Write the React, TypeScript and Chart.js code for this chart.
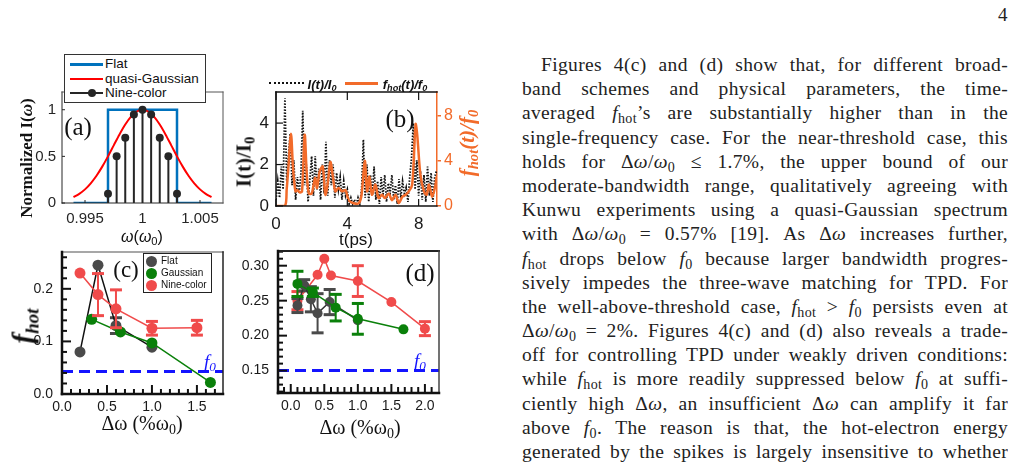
import React, { useEffect, useRef } from 'react';
import { Chart, registerables } from 'chart.js';

Chart.register(...registerables);

const SERIF = '"Liberation Serif", "Times New Roman", serif';
const SANS = '"Liberation Sans", Arial, sans-serif';
const ORANGE = '#f26b2a';
const BLUE_F0 = '#1414ff';
const GRAY = '#4a4a4a';
const GREEN = '#0a800a';
const RED = '#f04b4b';

// ===== Panel (a): spectra =====
const flatFreq = [0.994, 0.997, 0.997, 1.003, 1.003, 1.006];
const flatAmp = [0, 0, 1, 1, 0, 0];
const gaussFreq = [0.994, 0.9945, 0.995, 0.9955, 0.996, 0.9965, 0.997, 0.9975, 0.998, 0.9985, 0.999, 0.9995, 1.0, 1.0005, 1.001, 1.0015, 1.002, 1.0025, 1.003, 1.0035, 1.004, 1.0045, 1.005, 1.0055, 1.006];
const gaussAmp = [0.063, 0.098, 0.146, 0.211, 0.292, 0.39, 0.5, 0.618, 0.735, 0.841, 0.926, 0.981, 1.0, 0.981, 0.926, 0.841, 0.735, 0.618, 0.5, 0.39, 0.292, 0.211, 0.146, 0.098, 0.063];
const nineFreq = [0.997, 0.99775, 0.9985, 0.99925, 1.0, 1.00075, 1.0015, 1.00225, 1.003];
const nineAmp = [0.1, 0.5, 0.7, 0.95, 1.0, 0.95, 0.7, 0.5, 0.1];
const aXTicks = [0.995, 1.0, 1.005];
const aXLabels = ['0.995', '1', '1.005'];
const aYTicks = [0, 0.5, 1];
const aYLabels = ['0', '0.5', '1'];

// ===== Panel (b): time series =====
const intTime = [0, 0.1, 0.2, 0.3, 0.4, 0.5, 0.6, 0.7, 0.8, 0.9, 1.0, 1.1, 1.2, 1.3, 1.4, 1.5, 1.6, 1.7, 1.8, 1.9, 2.0, 2.1, 2.2, 2.3, 2.4, 2.5, 2.6, 2.7, 2.8, 2.9, 3.0, 3.1, 3.2, 3.3, 3.4, 3.5, 3.6, 3.7, 3.8, 3.9, 4.0, 4.1, 4.2, 4.3, 4.4, 4.5, 4.6, 4.7, 4.8, 4.9, 5.0, 5.1, 5.2, 5.3, 5.4, 5.5, 5.6, 5.7, 5.8, 5.9, 6.0, 6.1, 6.2, 6.3, 6.4, 6.5, 6.6, 6.7, 6.8, 6.9, 7.0, 7.1, 7.2, 7.3, 7.4, 7.5, 7.6, 7.7, 7.8, 7.9, 8.0, 8.1, 8.2, 8.3, 8.4, 8.5, 8.6, 8.7, 8.8, 8.9, 9.0];
const intensity = [0.3, 1.2, 0.4, 1.9, 0.8, 5.2, 1.2, 2.5, 3.5, 1.0, 2.2, 0.3, 1.4, 0.6, 1.6, 4.6, 1.0, 2.0, 0.2, 1.3, 2.4, 0.5, 2.4, 0.8, 1.8, 0.3, 2.0, 0.6, 3.1, 0.5, 2.2, 1.0, 2.0, 0.4, 1.6, 0.8, 1.4, 0.3, 1.2, 0.5, 0.8, 0.1, 0.4, 0.1, 0.3, 0.05, 0.4, 0.1, 0.8, 3.2, 0.4, 2.0, 0.2, 1.5, 0.5, 1.9, 0.3, 1.2, 0.1, 1.4, 0.5, 1.5, 0.2, 1.1, 0.6, 1.5, 0.3, 1.0, 0.1, 1.3, 0.4, 1.2, 0.6, 0.9, 0.2, 1.4, 2.3, 4.0, 0.8, 2.2, 0.5, 1.7, 0.3, 1.5, 0.2, 1.9, 0.5, 1.6, 0.2, 1.4, 1.7];
const hotTime = [0, 0.5, 0.6, 0.7, 0.84, 0.95, 1.09, 1.2, 1.35, 1.46, 1.61, 1.72, 1.84, 2.0, 2.1, 2.2, 2.3, 2.45, 2.62, 2.77, 2.9, 3.05, 3.2, 3.33, 3.5, 3.7, 3.9, 4.08, 4.36, 4.64, 4.8, 4.98, 5.11, 5.24, 5.38, 5.58, 5.75, 5.95, 6.1, 6.33, 6.5, 6.7, 6.89, 7.08, 7.27, 7.45, 7.64, 7.83, 7.92, 8.1, 8.3, 8.45, 8.58, 8.76, 8.95, 9.0];
const hotRatio = [0, 0, 1.5, 3.5, 6.4, 3.5, 1.3, 1.4, 1.2, 1.3, 6.3, 3.0, 1.1, 1.1, 1.8, 2.5, 1.6, 3.05, 3.5, 1.0, 2.0, 3.9, 2.5, 1.3, 1.6, 1.3, 1.4, 0.5, 0.25, 0.25, 1.0, 4.0, 1.3, 2.6, 1.0, 1.9, 0.7, 1.0, 0.7, 1.1, 0.5, 1.0, 0.25, 0.8, 1.0, 1.3, 1.9, 7.25, 6.3, 2.75, 1.3, 1.0, 1.9, 0.8, 1.9, 2.6];
const bXTicks = [0, 4, 8];
const bYTicks = [0, 2, 4];
const bY2Ticks = [0, 4, 8];

// ===== Panel (c): near-threshold f_hot =====
const cFlatX = [0.2, 0.4, 0.6, 1.0];
const cFlatY = [0.08, 0.245, 0.13, 0.089];
const cFlatErr = [0, 0, 0.015, 0];
const cGaussX = [0.33, 0.65, 1.0, 1.65];
const cGaussY = [0.142, 0.118, 0.097, 0.022];
const cNineX = [0.2, 0.4, 0.6, 1.0, 1.5];
const cNineY = [0.23, 0.189, 0.162, 0.125, 0.126];
const cNineErr = [0, 0.04, 0.036, 0.013, 0.014];
const cF0 = 0.043;
const cXMajor = [0, 0.5, 1.0, 1.5];
const cXLabels = ['0.0', '0.5', '1.0', '1.5'];
const cYMajor = [0, 0.1, 0.2];
const cYLabels = ['0.0', '0.1', '0.2'];

// ===== Panel (d): well-above-threshold f_hot =====
const dFlatX = [0.1, 0.2, 0.3, 0.4, 0.58, 1.0];
const dFlatY = [0.243, 0.272, 0.252, 0.232, 0.248, 0.222];
const dFlatErr = [0.01, 0.008, 0.018, 0.028, 0.018, 0];
const dGaussX = [0.1, 0.33, 0.67, 1.0, 1.68];
const dGaussY = [0.274, 0.262, 0.24, 0.224, 0.209];
const dGaussErr = [0.018, 0.006, 0.019, 0.022, 0];
const dNineX = [0.1, 0.4, 0.5, 0.6, 1.0, 1.5, 2.0];
const dNineY = [0.25, 0.287, 0.31, 0.286, 0.278, 0.248, 0.21];
const dNineErr = [0.013, 0, 0, 0, 0.022, 0, 0.01];
const dF0 = 0.15;
const dXMajor = [0, 0.5, 1.0, 1.5, 2.0];
const dXLabels = ['0.0', '0.5', '1.0', '1.5', '2.0'];
const dYMajor = [0.15, 0.2, 0.25, 0.3];
const dYLabels = ['0.15', '0.20', '0.25', '0.30'];

// ---------- helpers ----------
type Rect = { x: number; y: number; w: number; h: number };
type Plot = { l: number; t: number; r: number; b: number };

const xy = (xs: number[], ys: number[]) => xs.map((x, i) => ({ x, y: ys[i] }));
const steps = (a: number, b: number, s: number) => {
  const out: number[] = [];
  const n = Math.round((b - a) / s);
  for (let i = 0; i <= n; i++) out.push(Math.round((a + i * s) * 1e6) / 1e6);
  return out;
};
const near = (a: number, b: number) => Math.abs(a - b) < 1e-7;
const labeler = (vals: number[], labels: string[]) => (v: number) => {
  const i = vals.findIndex((m) => near(m, v));
  return i >= 0 ? labels[i] : '';
};

function linScale(opts: {
  pos: 'bottom' | 'left' | 'right';
  min: number; max: number; tickVals: number[]; label: (v: number) => string;
  thick: number; pad: number; color?: string; font?: number;
}) {
  const horiz = opts.pos === 'bottom';
  return {
    type: 'linear',
    position: opts.pos,
    min: opts.min,
    max: opts.max,
    afterBuildTicks: (s: any) => { s.ticks = opts.tickVals.map((v) => ({ value: v })); },
    afterFit: (s: any) => {
      if (horiz) s.height = opts.thick; else s.width = opts.thick;
      s.paddingLeft = 0; s.paddingRight = 0; s.paddingTop = 0; s.paddingBottom = 0;
    },
    grid: { display: false, drawTicks: false },
    border: { display: false },
    ticks: {
      autoSkip: false, maxRotation: 0, minRotation: 0, padding: opts.pad,
      color: opts.color || '#1a1a1a',
      font: { family: SANS, size: opts.font || 14 },
      callback: (v: any) => opts.label(Number(v)),
    },
  };
}

type Border = { side: 'left' | 'right' | 'top' | 'bottom'; color: string; width: number };
type TickSpec = { scale: string; side: 'left' | 'right' | 'top' | 'bottom'; len: number; minorLen: number; majors: number[] | null; color: string; width: number };

function framePlugin(borders: Border[], ticks: TickSpec[]) {
  return {
    id: 'frame',
    afterDraw(chart: any) {
      const { ctx, chartArea: a } = chart;
      ctx.save();
      ctx.lineCap = 'butt';
      ticks.forEach((t) => {
        const sc = chart.scales[t.scale];
        ctx.strokeStyle = t.color;
        ctx.lineWidth = t.width;
        sc.ticks.forEach((tk: any) => {
          const major = !t.majors || t.majors.some((m) => near(m, tk.value));
          const len = major ? t.len : t.minorLen;
          const p = sc.getPixelForValue(tk.value);
          ctx.beginPath();
          if (t.side === 'left') { ctx.moveTo(a.left, p); ctx.lineTo(a.left + len, p); }
          if (t.side === 'right') { ctx.moveTo(a.right, p); ctx.lineTo(a.right - len, p); }
          if (t.side === 'bottom') { ctx.moveTo(p, a.bottom); ctx.lineTo(p, a.bottom - len); }
          if (t.side === 'top') { ctx.moveTo(p, a.top); ctx.lineTo(p, a.top + len); }
          ctx.stroke();
        });
      });
      borders.forEach((b) => {
        ctx.strokeStyle = b.color;
        ctx.lineWidth = b.width;
        ctx.beginPath();
        const h = b.width / 2;
        if (b.side === 'left') { ctx.moveTo(a.left, a.top - h); ctx.lineTo(a.left, a.bottom + h); }
        if (b.side === 'right') { ctx.moveTo(a.right, a.top - h); ctx.lineTo(a.right, a.bottom + h); }
        if (b.side === 'top') { ctx.moveTo(a.left - h, a.top); ctx.lineTo(a.right + h, a.top); }
        if (b.side === 'bottom') { ctx.moveTo(a.left - h, a.bottom); ctx.lineTo(a.right + h, a.bottom); }
        ctx.stroke();
      });
      ctx.restore();
    },
  };
}

function errorBarPlugin(errs: Record<number, { err: number[]; color: string }>) {
  return {
    id: 'errbars',
    beforeDatasetDraw(chart: any, args: any) {
      const e = errs[args.index];
      if (!e) return;
      const ds = chart.data.datasets[args.index];
      const ys = chart.scales.y;
      const ctx = chart.ctx;
      ctx.save();
      ctx.strokeStyle = e.color;
      args.meta.data.forEach((pt: any, i: number) => {
        const d = e.err[i];
        if (!d) return;
        const yv = ds.data[i].y;
        const y1 = ys.getPixelForValue(yv + d);
        const y2 = ys.getPixelForValue(yv - d);
        ctx.lineWidth = 2;
        ctx.beginPath(); ctx.moveTo(pt.x, y1); ctx.lineTo(pt.x, y2); ctx.stroke();
        ctx.lineWidth = 3;
        ctx.beginPath(); ctx.moveTo(pt.x - 6, y1); ctx.lineTo(pt.x + 6, y1); ctx.stroke();
        ctx.beginPath(); ctx.moveTo(pt.x - 6, y2); ctx.lineTo(pt.x + 6, y2); ctx.stroke();
      });
      ctx.restore();
    },
  };
}

function baseOptions(rect: Rect, plot: Plot, scales: any, rightPad: number) {
  return {
    responsive: false,
    maintainAspectRatio: false,
    animation: false,
    devicePixelRatio: 1,
    events: [],
    layout: { autoPadding: false, padding: { left: 0, top: plot.t - rect.y, right: rightPad, bottom: 0 } },
    plugins: { legend: { display: false }, tooltip: { enabled: false }, title: { display: false } },
    scales,
  };
}

// ---------- chart configs ----------
const rectA: Rect = { x: 0, y: 80, w: 245, h: 155 };
const plotA: Plot = { l: 62, t: 92, r: 223, b: 203 };
function configA() {
  const stems: any[] = [];
  nineFreq.forEach((f, i) => { stems.push({ x: f, y: 0 }, { x: f, y: nineAmp[i] }, { x: f, y: null }); });
  return {
    type: 'line',
    data: {
      datasets: [
        { data: xy(nineFreq, nineAmp), showLine: false, pointRadius: 4, pointBackgroundColor: '#262626', pointBorderWidth: 0, order: 0 },
        { data: stems, borderColor: '#262626', borderWidth: 2, pointRadius: 0, spanGaps: false, order: 1 },
        { data: xy(gaussFreq, gaussAmp), borderColor: '#ff0000', borderWidth: 2, pointRadius: 0, tension: 0.3, order: 2 },
        { data: xy(flatFreq, flatAmp), borderColor: '#0072bd', borderWidth: 2.5, pointRadius: 0, order: 3 },
      ],
    },
    options: baseOptions(rectA, plotA, {
      x: linScale({ pos: 'bottom', min: 0.993, max: 1.007, tickVals: aXTicks, label: labeler(aXTicks, aXLabels), thick: rectA.y + rectA.h - plotA.b, pad: 7, color: '#262626', font: 15 }),
      y: linScale({ pos: 'left', min: 0, max: 1.19, tickVals: aYTicks, label: labeler(aYTicks, aYLabels), thick: plotA.l - rectA.x, pad: 6, color: '#262626', font: 15 }),
    }, rectA.x + rectA.w - plotA.r),
    plugins: [framePlugin(
      [
        { side: 'left', color: '#262626', width: 1 },
        { side: 'bottom', color: '#262626', width: 1 },
        { side: 'top', color: '#555', width: 1 },
        { side: 'right', color: '#555', width: 1 },
      ],
      [
        { scale: 'x', side: 'bottom', len: 3, minorLen: 3, majors: null, color: '#262626', width: 1 },
        { scale: 'y', side: 'left', len: 3, minorLen: 3, majors: null, color: '#262626', width: 1 },
      ],
    )],
  };
}

const rectB: Rect = { x: 250, y: 80, w: 220, h: 155 };
const plotB: Plot = { l: 276, t: 92, r: 437, b: 206 };
function configB() {
  const y2: any = linScale({ pos: 'right', min: 0, max: 10.1, tickVals: bY2Ticks, label: (v) => String(v), thick: rectB.x + rectB.w - plotB.r, pad: 3, color: ORANGE, font: 16 });
  y2.grid = { display: true, drawOnChartArea: false, drawTicks: true, tickLength: 4, color: ORANGE, lineWidth: 1.5 };
  y2.border = { display: true, color: ORANGE, width: 1.5 };
  return {
    type: 'line',
    data: {
      datasets: [
        { data: xy(hotTime, hotRatio), yAxisID: 'y2', borderColor: ORANGE, borderWidth: 2.5, pointRadius: 0, tension: 0.3, order: 0 },
        { data: xy(intTime, intensity), yAxisID: 'y', borderColor: '#111', borderWidth: 1.8, borderDash: [1.5, 1.5], pointRadius: 0, tension: 0, order: 1 },
      ],
    },
    options: baseOptions(rectB, plotB, {
      x: linScale({ pos: 'bottom', min: 0, max: 9.03, tickVals: bXTicks, label: (v) => String(v), thick: rectB.y + rectB.h - plotB.b, pad: 8, font: 17 }),
      y: linScale({ pos: 'left', min: 0, max: 5.5, tickVals: bYTicks, label: (v) => String(v), thick: plotB.l - rectB.x, pad: 7, font: 17 }),
      y2,
    }, 0),
    plugins: [framePlugin(
      [
        { side: 'left', color: '#111', width: 1.5 },
        { side: 'bottom', color: '#111', width: 1.5 },
        { side: 'top', color: '#111', width: 1.5 },
      ],
      [
        { scale: 'x', side: 'bottom', len: 7, minorLen: 7, majors: null, color: '#111', width: 1.2 },
        { scale: 'x', side: 'top', len: 8, minorLen: 8, majors: null, color: '#111', width: 1.2 },
        { scale: 'y', side: 'left', len: 7, minorLen: 7, majors: null, color: '#111', width: 1.2 },
      ],
    )],
  };
}

const rectC: Rect = { x: 0, y: 240, w: 245, h: 180 };
const plotC: Plot = { l: 62, t: 252, r: 223, b: 394 };
function configC() {
  const xMin = 0, xMax = 1.79;
  return {
    type: 'line',
    data: {
      datasets: [
        { data: xy(cNineX, cNineY), borderColor: RED, borderWidth: 1.5, pointRadius: 5.5, pointBackgroundColor: RED, pointBorderWidth: 0, order: 0 },
        { data: xy(cGaussX, cGaussY), borderColor: GREEN, borderWidth: 1.5, pointRadius: 5.5, pointBackgroundColor: GREEN, pointBorderWidth: 0, order: 1 },
        { data: xy(cFlatX, cFlatY), borderColor: '#111', borderWidth: 1.5, pointRadius: 5.5, pointBackgroundColor: GRAY, pointBorderWidth: 0, order: 2 },
        { data: [{ x: xMin, y: cF0 }, { x: xMax, y: cF0 }], borderColor: BLUE_F0, borderWidth: 3, borderDash: [11, 6], pointRadius: 0, order: 3 },
      ],
    },
    options: baseOptions(rectC, plotC, {
      x: linScale({ pos: 'bottom', min: xMin, max: xMax, tickVals: steps(0, 1.7, 0.1), label: labeler(cXMajor, cXLabels), thick: rectC.y + rectC.h - plotC.b, pad: 5, font: 14 }),
      y: linScale({ pos: 'left', min: 0, max: 0.27, tickVals: steps(0, 0.26, 0.02), label: labeler(cYMajor, cYLabels), thick: plotC.l - rectC.x, pad: 9, font: 14 }),
    }, rectC.x + rectC.w - plotC.r),
    plugins: [
      errorBarPlugin({ 0: { err: cNineErr, color: RED }, 2: { err: cFlatErr, color: GRAY } }),
      framePlugin(
        [
          { side: 'top', color: '#8a8a8a', width: 1.5 },
          { side: 'right', color: '#222', width: 1.5 },
          { side: 'left', color: '#111', width: 2.5 },
          { side: 'bottom', color: '#111', width: 2.5 },
        ],
        [
          { scale: 'x', side: 'bottom', len: 9, minorLen: 5, majors: cXMajor, color: '#111', width: 2 },
          { scale: 'y', side: 'left', len: 9, minorLen: 5, majors: cYMajor, color: '#111', width: 2 },
        ],
      ),
    ],
  };
}

const rectD: Rect = { x: 235, y: 240, w: 235, h: 180 };
const plotD: Plot = { l: 278, t: 251, r: 439, b: 393 };
function configD() {
  const xMin = -0.19, xMax = 2.21;
  return {
    type: 'line',
    data: {
      datasets: [
        { data: xy(dGaussX, dGaussY), borderColor: GREEN, borderWidth: 1.5, pointRadius: 5, pointBackgroundColor: GREEN, pointBorderWidth: 0, order: 0 },
        { data: xy(dFlatX, dFlatY), borderColor: '#333', borderWidth: 1.5, pointRadius: 5, pointBackgroundColor: GRAY, pointBorderWidth: 0, order: 1 },
        { data: xy(dNineX, dNineY), borderColor: RED, borderWidth: 1.5, pointRadius: 5, pointBackgroundColor: RED, pointBorderWidth: 0, order: 2 },
        { data: [{ x: xMin, y: dF0 }, { x: xMax, y: dF0 }], borderColor: BLUE_F0, borderWidth: 3, borderDash: [11, 6], pointRadius: 0, order: 3 },
      ],
    },
    options: baseOptions(rectD, plotD, {
      x: linScale({ pos: 'bottom', min: xMin, max: xMax, tickVals: steps(-0.1, 2.1, 0.1), label: labeler(dXMajor, dXLabels), thick: rectD.y + rectD.h - plotD.b, pad: 5, font: 14 }),
      y: linScale({ pos: 'left', min: 0.118, max: 0.321, tickVals: steps(0.12, 0.32, 0.01), label: labeler(dYMajor, dYLabels), thick: plotD.l - rectD.x, pad: 9, font: 14 }),
    }, rectD.x + rectD.w - plotD.r),
    plugins: [
      errorBarPlugin({ 0: { err: dGaussErr, color: GREEN }, 1: { err: dFlatErr, color: GRAY }, 2: { err: dNineErr, color: RED } }),
      framePlugin(
        [
          { side: 'top', color: '#222', width: 2 },
          { side: 'right', color: '#444', width: 1.5 },
          { side: 'left', color: '#111', width: 2.5 },
          { side: 'bottom', color: '#111', width: 2.5 },
        ],
        [
          { scale: 'x', side: 'bottom', len: 9, minorLen: 6, majors: dXMajor, color: '#111', width: 2 },
          { scale: 'y', side: 'left', len: 9, minorLen: 5, majors: dYMajor, color: '#111', width: 2 },
        ],
      ),
    ],
  };
}

// ---------- components ----------
function Panel({ rect, make }: { rect: Rect; make: () => any }) {
  const ref = useRef<HTMLCanvasElement>(null);
  useEffect(() => {
    const chart = new Chart(ref.current as HTMLCanvasElement, make());
    return () => chart.destroy();
  }, []);
  return (
    <canvas
      ref={ref}
      width={rect.w}
      height={rect.h}
      style={{ position: 'absolute', left: rect.x, top: rect.y, width: rect.w, height: rect.h }}
    />
  );
}

function T({ x, y, rot, style, children }: { x: number; y: number; rot?: number; style?: React.CSSProperties; children: React.ReactNode }) {
  return (
    <div
      style={{
        position: 'absolute', left: x, top: y, whiteSpace: 'nowrap', lineHeight: 1,
        transform: `translate(-50%, -50%)${rot ? ` rotate(${rot}deg)` : ''}`,
        ...style,
      }}
    >
      {children}
    </div>
  );
}

const sub: React.CSSProperties = { fontSize: '0.7em', verticalAlign: '-0.3em', lineHeight: 0 };
const tsub: React.CSSProperties = { fontSize: '0.72em', verticalAlign: '-0.28em', lineHeight: 0, fontStyle: 'normal' };

const FHOT = <><i>f</i><span style={tsub}>hot</span></>;
const F0 = <><i>f</i><span style={tsub}>0</span></>;
const DW = <>Δ<i>ω</i>/<i>ω</i><span style={tsub}>0</span></>;
const DWs = <>Δ<i>ω</i></>;

const textLines: React.ReactNode[] = [
  <>Figures 4(c) and (d) show that, for different broad-</>,
  <>band schemes and physical parameters, the time-</>,
  <>averaged {FHOT}’s are substantially higher than in the</>,
  <>single-frequency case. For the near-threshold case, this</>,
  <>holds for {DW} ≤ 1.7%, the upper bound of our</>,
  <>moderate-bandwidth range, qualitatively agreeing with</>,
  <>Kunwu experiments using a quasi-Gaussian spectrum</>,
  <>with {DW} = 0.57% [19]. As {DWs} increases further,</>,
  <>{FHOT} drops below {F0} because larger bandwidth progres-</>,
  <>sively impedes the three-wave matching for TPD. For</>,
  <>the well-above-threshold case, {FHOT} &gt; {F0} persists even at</>,
  <>{DW} = 2%. Figures 4(c) and (d) also reveals a trade-</>,
  <>off for controlling TPD under weakly driven conditions:</>,
  <>while {FHOT} is more readily suppressed below {F0} at suffi-</>,
  <>ciently high {DWs}, an insufficient {DWs} can amplify it far</>,
  <>above {F0}. The reason is that, the hot-electron energy</>,
  <>generated by the spikes is largely insensitive to whether</>,
];

const legendRow = (top: number): React.CSSProperties => ({ position: 'absolute', left: 0, top, width: '100%', height: 14 });

export default function App() {
  return (
    <div style={{ position: 'absolute', left: 0, top: 0, width: 1019, height: 467, overflow: 'hidden', background: '#fff', color: '#111' }}>
      <Panel rect={rectA} make={configA} />
      <Panel rect={rectB} make={configB} />
      <Panel rect={rectC} make={configC} />
      <Panel rect={rectD} make={configD} />

      {/* Panel (a) annotations */}
      <div style={{ position: 'absolute', left: 64, top: 54, width: 140, height: 47, border: '1px solid #333', background: '#fff', fontFamily: SANS, fontSize: 13.5, color: '#111' }}>
        <div style={legendRow(2)}>
          <div style={{ position: 'absolute', left: 5, top: 6, width: 33, height: 2.5, background: '#0072bd' }} />
          <div style={{ position: 'absolute', left: 40, top: 0, lineHeight: '14px' }}>Flat</div>
        </div>
        <div style={legendRow(16.5)}>
          <div style={{ position: 'absolute', left: 5, top: 6, width: 33, height: 2, background: '#ff0000' }} />
          <div style={{ position: 'absolute', left: 40, top: 0, lineHeight: '14px' }}>quasi-Gaussian</div>
        </div>
        <div style={legendRow(31)}>
          <div style={{ position: 'absolute', left: 5, top: 6, width: 33, height: 2, background: '#262626' }} />
          <div style={{ position: 'absolute', left: 23, top: 3, width: 8, height: 8, borderRadius: 4, background: '#262626' }} />
          <div style={{ position: 'absolute', left: 40, top: 0, lineHeight: '14px' }}>Nine-color</div>
        </div>
      </div>
      <T x={78} y={126} style={{ fontFamily: SERIF, fontSize: 25 }}>(a)</T>
      <T x={26} y={158} rot={-90} style={{ fontFamily: SERIF, fontSize: 17, fontWeight: 'bold' }}>Normalized I(<i>ω</i>)</T>
      <T x={142} y={237} style={{ fontFamily: SANS, fontSize: 16 }}><i>ω</i>(<i>ω</i><span style={sub}>0</span>)</T>

      {/* Panel (b) annotations */}
      <div style={{ position: 'absolute', left: 269, top: 82, width: 35, height: 0, borderTop: '2px dotted #111' }} />
      <T x={322} y={84} style={{ fontFamily: SANS, fontSize: 13, fontWeight: 'bold', fontStyle: 'italic' }}>I(t)/I<span style={sub}>0</span></T>
      <div style={{ position: 'absolute', left: 345, top: 82, width: 33, height: 2.5, background: ORANGE }} />
      <T x={405} y={84} style={{ fontFamily: SANS, fontSize: 13, fontWeight: 'bold', fontStyle: 'italic' }}>f<span style={sub}>hot</span>(t)/f<span style={sub}>0</span></T>
      <T x={400} y={118} style={{ fontFamily: SERIF, fontSize: 25 }}>(b)</T>
      <T x={244} y={162} rot={-90} style={{ fontFamily: SERIF, fontSize: 21, fontWeight: 'bold' }}>I(t)/I<span style={sub}>0</span></T>
      <T x={467} y={143} rot={-90} style={{ fontFamily: SERIF, fontSize: 21, fontWeight: 'bold', fontStyle: 'italic', color: ORANGE }}>f<span style={sub}>hot</span>(t)/f<span style={sub}>0</span></T>
      <T x={356} y={239} style={{ fontFamily: SANS, fontSize: 17 }}>t(ps)</T>

      {/* Panel (c) annotations */}
      <div style={{ position: 'absolute', left: 143, top: 253, width: 67, height: 38, border: '1px solid #222', background: '#fff', fontFamily: SANS, fontSize: 10, color: '#111' }}>
        {[['Flat', GRAY], ['Gaussian', GREEN], ['Nine-color', RED]].map(([name, col], i) => (
          <div key={name} style={{ position: 'absolute', left: 0, top: 1 + i * 12, width: '100%', height: 12 }}>
            <div style={{ position: 'absolute', left: 1.5, top: 0.5, width: 11, height: 11, borderRadius: 6, background: col }} />
            <div style={{ position: 'absolute', left: 17, top: 0, lineHeight: '12px' }}>{name}</div>
          </div>
        ))}
      </div>
      <T x={126} y={269} style={{ fontFamily: SERIF, fontSize: 23 }}>(c)</T>
      <T x={210} y={361} style={{ fontFamily: SERIF, fontSize: 19, fontStyle: 'italic', color: BLUE_F0 }}>f<span style={sub}>0</span></T>
      <T x={23} y={326} rot={-90} style={{ fontFamily: SERIF, fontSize: 29, fontWeight: 'bold', fontStyle: 'italic' }}>f<span style={{ fontSize: '0.66em', verticalAlign: '-0.3em', lineHeight: 0 }}>hot</span></T>
      <T x={142} y={423} style={{ fontFamily: SERIF, fontSize: 20 }}>Δω (%ω<span style={sub}>0</span>)</T>

      {/* Panel (d) annotations */}
      <T x={420} y={272} style={{ fontFamily: SERIF, fontSize: 25 }}>(d)</T>
      <T x={420} y={360} style={{ fontFamily: SERIF, fontSize: 19, fontStyle: 'italic', color: BLUE_F0 }}>f<span style={sub}>0</span></T>
      <T x={360} y={427} style={{ fontFamily: SERIF, fontSize: 20 }}>Δω (%ω<span style={sub}>0</span>)</T>

      {/* Page number and text column */}
      <div style={{ position: 'absolute', left: 998, top: 4, fontFamily: SERIF, fontSize: 19, color: '#222' }}>4</div>
      <div style={{ position: 'absolute', left: 522, top: 53, width: 486, fontFamily: SERIF, fontSize: 19.5, letterSpacing: '0.35px', color: '#222' }}>
        {textLines.map((ln, i) => (
          <div
            key={i}
            style={{
              height: 24.2, lineHeight: '24.2px', overflow: 'hidden',
              textAlign: 'justify', textAlignLast: 'justify',
              textIndent: i === 0 ? 19 : 0,
            }}
          >
            {ln}
          </div>
        ))}
      </div>
    </div>
  );
}
